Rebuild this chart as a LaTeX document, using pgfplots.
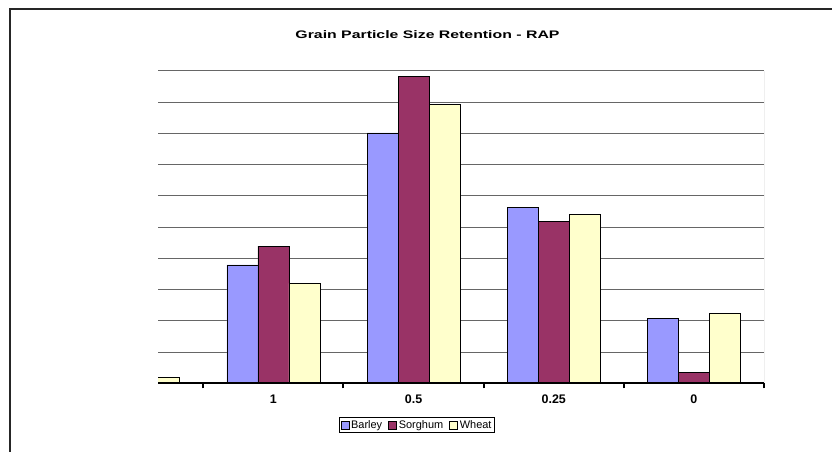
\documentclass[border=0pt]{standalone}
\usepackage{pgfplots}
\pgfplotsset{compat=1.18}
\usepackage{fontspec}
\setmainfont{Liberation Sans}
\usepackage{graphicx}
\definecolor{barley}{HTML}{9999FF}
\definecolor{sorghum}{HTML}{993366}
\definecolor{wheat}{HTML}{FFFFCC}
\begin{document}
\begin{tikzpicture}[x=1bp,y=1bp]
\useasboundingbox (0,0) rectangle (832,452);
\draw[line width=1.5bp, black!85] (10,-5) -- (10,443) -- (840,443);
\node[font=\bfseries\fontsize{11}{12}\selectfont] at (427.5,417) {\resizebox{264bp}{\height}{Grain Particle Size Retention - RAP}};
\begin{axis}[
  at={(158bp,68.7bp)}, anchor=south west,
  width=606bp, height=312.6bp, scale only axis,
  xmin=0.177, xmax=4.5, ymin=0, ymax=10,
  ybar=0pt, bar width=31bp,
  axis line style={draw=none},
  ytick={1,2,3,4,5,6,7,8,9,10}, yticklabels={},
  ymajorgrids, major grid style={black!60, line width=0.8bp},
  y tick style={draw=none},
  xtick={1,2,3,4}, xticklabels={1,0.5,0.25,0},
  minor xtick={0.5,1.5,2.5,3.5,4.5},
  major tick length=0pt, minor tick length=5bp,
  tick align=outside, xtick pos=left,
  x tick style={black, line width=2bp},
  xticklabel style={font=\bfseries\fontsize{12.5}{14}\selectfont, yshift=-8bp},
  legend columns=3,
  legend style={at={(0.4274,-0.1334)}, anchor=center, draw=black, line width=0.8bp,
    font=\fontsize{11}{12}\selectfont, inner sep=0.8bp,
    /tikz/every even column/.append style={column sep=4bp}},
  legend image code/.code={\draw[#1, line width=0.6bp] (0bp,-4bp) rectangle (8bp,4bp);},
]
\addplot[fill=barley, draw=black, line width=0.6bp] coordinates {(1,3.79) (2,8.01) (3,5.63) (4,2.08)};
\addplot[fill=sorghum, draw=black, line width=0.6bp] coordinates {(1,4.39) (2,9.81) (3,5.17) (4,0.35)};
\addplot[fill=wheat, draw=black, line width=0.6bp] coordinates {(0,0.18) (1,3.20) (2,8.91) (3,5.41) (4,2.24)};
\legend{Barley,Sorghum,Wheat}
\draw[black, line width=2bp] (rel axis cs:0,0) -- (rel axis cs:1,0);
\draw[black!50, line width=0.8bp] (rel axis cs:1,0) -- (rel axis cs:1,1);
\end{axis}
\end{tikzpicture}
\end{document}
